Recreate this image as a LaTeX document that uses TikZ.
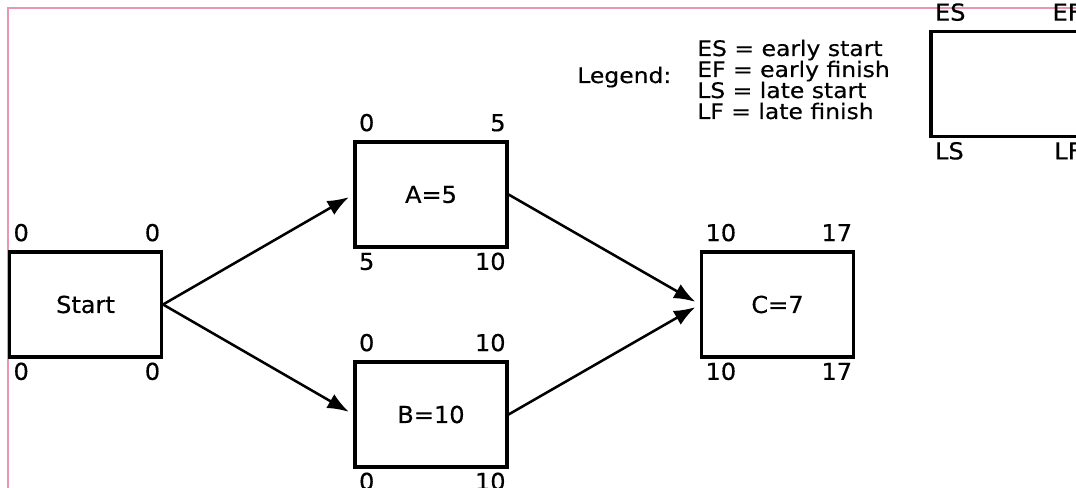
\documentclass[tikz,border=0pt]{standalone}
\usepackage{fontspec}
\usepackage{graphicx}
\setmainfont{DejaVu Sans}[FakeBold=0.4]
\usetikzlibrary{arrows.meta}
\newcommand\wt[1]{\scalebox{1.03}[1]{#1}}
\newcommand\wl[1]{\scalebox{1.1}[1]{#1}}
\definecolor{pinkline}{RGB}{232,150,180}
\tikzset{
  act/.style={draw, line width=2.3pt, rectangle, minimum width=114pt, minimum height=78.75pt, inner sep=0pt, font=\fontsize{17.5}{20}\selectfont},
  lbl/.style={inner sep=0pt, font=\fontsize{17.5}{20}\selectfont},
  legtxt/.style={inner sep=0pt, font=\fontsize{16}{18}\selectfont},
  arr/.style={line width=1.9pt, -{Latex[length=16pt,width=12pt]}, shorten >=4pt},
}
\begin{document}
\begin{tikzpicture}[x=0.75pt,y=-0.75pt]
\useasboundingbox (0,0) rectangle (1076,488);
\clip (0,0) rectangle (1076,488);
\fill[white] (0,0) rectangle (1076,488);
\draw[pinkline, line width=1.6pt] (8,8) rectangle (1100,520);
% activity boxes
\node[act] (s) at (85.5,304.5) {\wt{Start}};
\node[act] (a) at (431,194.5) {\wt{A=5}};
\node[act] (b) at (431,414.5) {\wt{B=10}};
\node[act] (c) at (777.5,304.5) {\wt{C=7}};
\node[act] (leg) at (1007,84) {};
% corner labels
\foreach \n/\es/\ef/\ls/\lf in {s/0/0/0/0, a/0/5/5/10, b/0/10/0/10, c/10/17/10/17, leg/ES/EF/LS/LF}{
  \node[lbl, anchor=base west] (\n-es) at ([xshift=4pt,yshift=7pt]\n.north west) {\wt{\es}};
  \node[lbl, anchor=base east] (\n-ef) at ([xshift=-2pt,yshift=7pt]\n.north east) {\wt{\ef}};
  \node[lbl, anchor=base west] (\n-ls) at ([xshift=4pt,yshift=-16pt]\n.south west) {\wt{\ls}};
  \node[lbl, anchor=base east] (\n-lf) at ([xshift=-2pt,yshift=-16pt]\n.south east) {\wt{\lf}};
}
% legend text
\node[legtxt, anchor=base west] (legend) at (577,83) {\wl{Legend:}};
\node[legtxt, anchor=base west] (l1) at (697,56) {\wl{ES = early start}};
\node[legtxt, anchor=base west] (l2) at (697,77) {\wl{EF = early finish}};
\node[legtxt, anchor=base west] (l3) at (697,98) {\wl{LS = late start}};
\node[legtxt, anchor=base west] (l4) at (697,119) {\wl{LF = late finish}};
% arrows
\draw[arr] (s.east) -- (a.west);
\draw[arr] (s.east) -- (b.west);
\draw[arr] (a.east) -- (c.west);
\draw[arr] (b.east) -- (c.west);
\end{tikzpicture}
\end{document}
